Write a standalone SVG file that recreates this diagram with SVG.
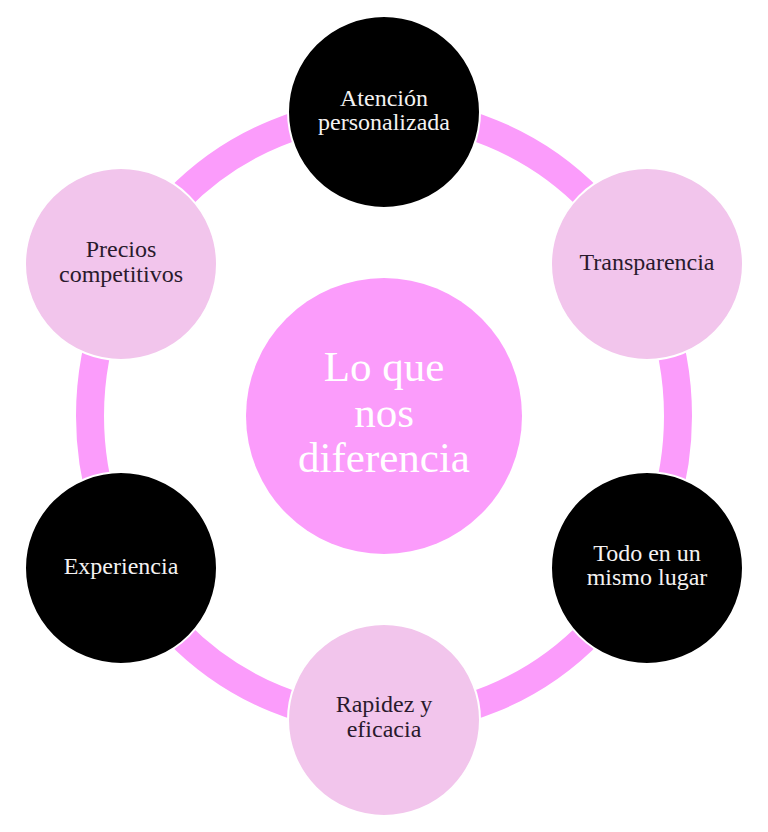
<svg xmlns="http://www.w3.org/2000/svg" width="768" height="832" viewBox="0 0 768 832">
<style>
.ring{fill:none;stroke:#FB9CFB;stroke-width:28}
.dark{fill:#000000;stroke:#ffffff;stroke-width:2}
.light{fill:#F2C5EC;stroke:#ffffff;stroke-width:2}
.center{fill:#FB9CFB}
text{font-family:"Liberation Serif","Times New Roman",serif;text-anchor:middle}
.tw{fill:#F4F2F2;font-size:24px}
.td{fill:#2A1A2C;font-size:24px}
.tc{fill:#FFFFFF;font-size:43px}
</style>
<rect width="768" height="832" fill="#ffffff"/>
<g id="connectors">
<ellipse class="ring" cx="384" cy="416" rx="294" ry="304"/>
</g>
<g id="center">
<circle class="center" cx="384" cy="416" r="138"/>
<text class="tc" x="384" y="381">Lo que</text>
<text class="tc" x="384" y="427">nos</text>
<text class="tc" x="384" y="472">diferencia</text>
</g>
<g id="atencion">
<circle class="dark" cx="384" cy="112" r="96"/>
<text class="tw" x="384" y="106">Atención</text>
<text class="tw" x="384" y="130">personalizada</text>
</g>
<g id="transparencia">
<circle class="light" cx="647" cy="264" r="96"/>
<text class="td" x="647" y="270">Transparencia</text>
</g>
<g id="todo">
<circle class="dark" cx="647" cy="568" r="96"/>
<text class="tw" x="647" y="561">Todo en un</text>
<text class="tw" x="647" y="585">mismo lugar</text>
</g>
<g id="rapidez">
<circle class="light" cx="384" cy="720" r="96"/>
<text class="td" x="384" y="712">Rapidez y</text>
<text class="td" x="384" y="737">eficacia</text>
</g>
<g id="experiencia">
<circle class="dark" cx="121" cy="568" r="96"/>
<text class="tw" x="121" y="574">Experiencia</text>
</g>
<g id="precios">
<circle class="light" cx="121" cy="264" r="96"/>
<text class="td" x="121" y="257">Precios</text>
<text class="td" x="121" y="282">competitivos</text>
</g>
</svg>
